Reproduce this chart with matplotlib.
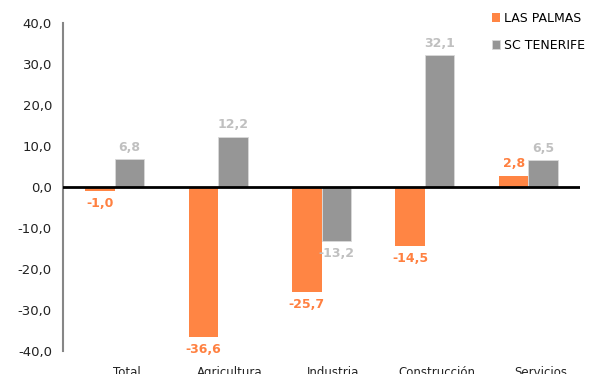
import matplotlib
matplotlib.use("Agg")
import matplotlib.pyplot as plt
import matplotlib.transforms as mtransforms
import numpy as np

categories = ["Total", "Agricultura", "Industria", "Construcción", "Servicios"]
las_palmas = [-1.0, -36.6, -25.7, -14.5, 2.8]
sc_tenerife = [6.8, 12.2, -13.2, 32.1, 6.5]
series_names = ["LAS PALMAS", "SC TENERIFE"]
yticks = [-40, -30, -20, -10, 0, 10, 20, 30, 40]

c_orange = "#FF8544"
c_gray = "#969696"
lab_orange = "#FF8040"
lab_gray = "#C0C0C0"

plt.rcParams['font.family'] = ['DejaVu Sans']

fig = plt.figure(figsize=(5.92, 3.74), dpi=100)
ax = fig.add_axes([63/592, 1-351/374, (580-63)/592, (351-23)/374])

x = np.arange(len(categories))
w = 0.285
b1 = ax.bar(x - w/2, las_palmas, w, color=c_orange, label=series_names[0], zorder=2)
b2 = ax.bar(x + w/2, sc_tenerife, w, color=c_gray, label=series_names[1],
            edgecolor="#D9D9D9", linewidth=0.6, zorder=2)

def fmt(v):
    return f"{v:.1f}".replace(".", ",")

for bars, vals, col in [(b1, las_palmas, lab_orange), (b2, sc_tenerife, lab_gray)]:
    for rect, v in zip(bars, vals):
        cx = rect.get_x() + rect.get_width()/2
        off = 4 if v >= 0 else -4
        ax.annotate(fmt(v), (cx, v), xytext=(0, off), textcoords="offset points",
                    ha="center", va="bottom" if v >= 0 else "top",
                    fontsize=9, fontweight="bold", color=col, zorder=3)

ax.set_xlim(-0.5, len(categories) - 0.5)
ax.set_ylim(-40, 40)
ax.set_yticks(yticks)
ax.set_yticklabels([fmt(t) for t in yticks], fontsize=9.5, color="#222222")
ax.tick_params(axis="y", length=0, pad=8)
ax.set_xticks(x)
ax.set_xticklabels(categories, fontsize=8.5, color="#222222")
ax.tick_params(axis="x", length=0, pad=11)
offset = mtransforms.ScaledTranslation(12/100, 0, fig.dpi_scale_trans)
for lbl in ax.get_xticklabels():
    lbl.set_transform(lbl.get_transform() + offset)

for s in ["top", "right", "bottom"]:
    ax.spines[s].set_visible(False)
ax.spines["left"].set_color("#868686")
ax.spines["left"].set_linewidth(1.5)
ax.axhline(0, color="black", linewidth=2, zorder=4)

leg = fig.legend(loc="upper left", bbox_to_anchor=(487/592, 1-7/374), frameon=False,
                 fontsize=9, handlelength=0.65, handleheight=0.65, handletextpad=0.35,
                 labelspacing=1.1, borderaxespad=0)

fig.savefig("out.png", dpi=100)
